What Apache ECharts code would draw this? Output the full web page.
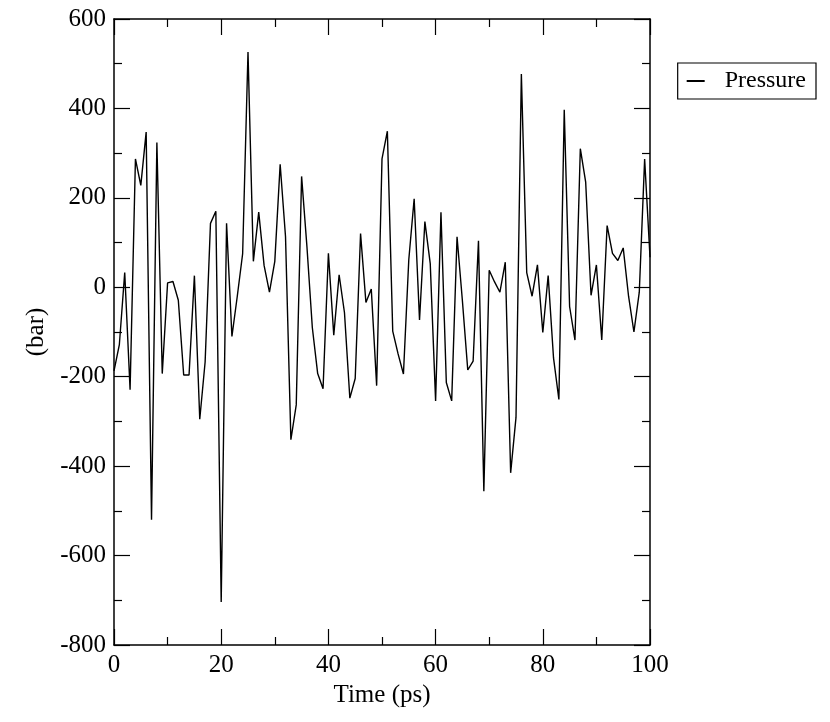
<!DOCTYPE html>
<html>
<head>
<meta charset="utf-8">
<title>Pressure</title>
<script src="https://cdn.jsdelivr.net/npm/echarts@6/dist/echarts.min.js"></script>
<style>
  html, body { margin: 0; padding: 0; background: #fff; }
  #chart { width: 830px; height: 722px; }
</style>
</head>
<body>
<div id="chart"></div>
<script>
// time in ps, one frame per ps
var times = [0, 1, 2, 3, 4, 5, 6, 7, 8, 9, 10, 11, 12, 13, 14, 15, 16, 17, 18, 19,
  20, 21, 22, 23, 24, 25, 26, 27, 28, 29, 30, 31, 32, 33, 34, 35, 36, 37, 38, 39,
  40, 41, 42, 43, 44, 45, 46, 47, 48, 49, 50, 51, 52, 53, 54, 55, 56, 57, 58, 59,
  60, 61, 62, 63, 64, 65, 66, 67, 68, 69, 70, 71, 72, 73, 74, 75, 76, 77, 78, 79,
  80, 81, 82, 83, 84, 85, 86, 87, 88, 89, 90, 91, 92, 93, 94, 95, 96, 97, 98, 99, 100];

// pressure (bar)
var pressure = [-187, -128, 33, -229, 287, 228, 347, -520, 324, -193,
  10, 13, -29, -196, -196, 26, -295, -167, 143, 170,
  -704, 143, -110, -20, 75, 526, 58, 168, 49, -11,
  58, 275, 113, -341, -263, 248, 90, -90, -193, -227,
  76, -107, 28, -57, -248, -204, 120, -34, -4, -220,
  287, 349, -98, -149, -194, 62, 198, -73, 147, 53,
  -254, 168, -213, -254, 113, -30, -185, -165, 104, -456,
  38, 12, -11, 56, -415, -291, 477, 33, -20, 50,
  -101, 26, -158, -251, 397, -43, -118, 310, 235, -18,
  50, -118, 138, 76, 60, 88, -20, -100, -11, 287, 67];

var xTicks = [0, 20, 40, 60, 80, 100];
var yTicks = [-800, -600, -400, -200, 0, 200, 400, 600];

var points = [];
for (var i = 0; i < times.length; i++) points.push([times[i], pressure[i]]);

var font = "'Liberation Serif', 'DejaVu Serif', serif";

function frameAxis(pos, isX, showLabel, extra) {
    var a = {
        type: "value",
        position: pos,
        min: isX ? xTicks[0] : yTicks[0],
        max: isX ? xTicks[xTicks.length - 1] : yTicks[yTicks.length - 1],
        interval: isX ? 20 : 200,
        splitLine: { show: false },
        axisLine: { show: true, onZero: false, lineStyle: { color: "#000", width: 1.5 } },
        axisTick: { show: true, inside: true, length: 16, lineStyle: { color: "#000", width: 1.2 } },
        minorTick: { show: true, splitNumber: 2, length: 8, lineStyle: { color: "#000", width: 1.2 } },
        axisLabel: { show: showLabel, color: "#000", fontFamily: font, fontSize: 25, margin: 8 }
    };
    for (var k in extra) a[k] = extra[k];
    return a;
}

var chart = echarts.init(document.getElementById("chart"), null, { renderer: "canvas" });
chart.setOption({
    animation: false,
    backgroundColor: "#fff",
    grid: { left: 114, right: 180, top: 19, bottom: 77, containLabel: false },
    legend: {
        right: 14, top: 63,
        orient: "vertical",
        borderColor: "#000", borderWidth: 1.2, borderRadius: 0,
        padding: [6, 10, 6, 9],
        itemWidth: 18, itemHeight: 2, itemGap: 0,
        icon: "rect",
        textStyle: { color: "#000", fontFamily: font, fontSize: 24, padding: [0, 0, 0, 15] },
        data: ["Pressure"]
    },
    xAxis: [
        frameAxis("bottom", true, true, {
            name: "Time (ps)", nameLocation: "middle", nameGap: 30,
            nameTextStyle: { color: "#000", fontFamily: font, fontSize: 25 }
        }),
        frameAxis("top", true, false, {})
    ],
    yAxis: [
        frameAxis("left", false, true, {
            name: "(bar)", nameLocation: "middle", nameGap: 60,
            nameTextStyle: { color: "#000", fontFamily: font, fontSize: 25 }
        }),
        frameAxis("right", false, false, {})
    ],
    series: [{
        name: "Pressure",
        type: "line",
        data: points,
        showSymbol: false,
        symbol: "none",
        lineStyle: { color: "#000", width: 1.4 },
        itemStyle: { color: "#000" }
    }]
});
</script>
</body>
</html>
